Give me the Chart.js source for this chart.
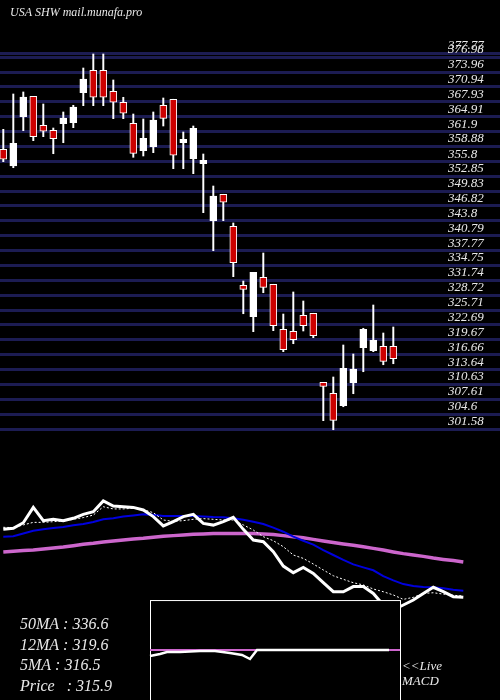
<!DOCTYPE html>
<html>
<head>
<meta charset="utf-8">
<script src="https://cdn.jsdelivr.net/npm/chart.js@4.4.1/dist/chart.umd.min.js"></script>
<style>
  html, body { margin: 0; padding: 0; background: #000; }
  #wrap { width: 500px; height: 700px; }
</style>
</head>
<body>
<div id="wrap"><canvas id="chart"></canvas></div>
<script>
// Candles
var opens  = [358.31,354.92,364.92,369.05,363.17,362.16,363.50,363.70,369.78,374.33,374.33,370.07,367.84,363.58,358.02,358.83,367.23,368.45,359.64,356.40,
              355.38,343.83,349.18,342.69,330.73,324.36,332.35,330.93,321.80,321.40,324.64,325.05,311.05,308.82,306.31,310.97,318.07,317.46,318.35,318.35];
var highs  = [362.36,369.52,369.93,369.05,367.49,362.62,365.87,367.23,374.79,377.63,377.63,372.36,368.85,365.46,364.45,365.87,368.71,368.45,361.81,363.03,
              357.35,350.86,349.18,343.36,331.59,333.36,337.27,330.93,324.90,329.37,327.54,325.05,311.05,312.13,318.62,316.79,322.01,326.73,321.05,322.27];
var lows   = [355.79,354.57,362.08,360.05,360.86,357.41,359.64,362.69,367.15,367.15,367.15,364.51,364.51,356.68,356.95,357.62,363.03,354.37,354.37,353.36,
              345.45,337.74,343.83,332.47,324.96,321.32,329.22,321.52,317.26,318.88,321.46,320.10,303.27,301.44,306.10,308.74,313.20,317.26,314.62,314.82];
var closes = [356.28,359.52,368.91,360.86,361.96,360.46,364.65,366.88,372.56,368.85,368.85,367.84,365.61,357.49,360.54,364.25,364.59,357.09,360.33,362.56,
              356.07,348.83,347.56,335.31,329.91,333.36,330.32,322.53,317.67,319.69,322.53,320.50,310.24,303.35,313.89,313.75,321.80,319.57,315.31,315.84];

// Price axis labels
var priceTicks = [377.77,376.98,373.96,370.94,367.93,364.91,361.9,358.88,355.8,352.85,349.83,346.82,343.8,340.79,337.77,334.75,
                  331.74,328.72,325.71,322.69,319.67,316.66,313.64,310.63,307.61,304.6,301.58];

// Lower panel lines (panel scale)
var priceLine = [355.7,356.3,359.6,368.6,360.8,361.6,360.8,362.2,364.5,366.1,372.4,369.4,369.0,368.6,367.1,363.2,357.7,360.2,363.2,364.5,
                 359.2,358.2,360.2,362.8,355.7,349.4,348.4,342.6,334.1,330.2,333.3,329.8,324.3,319.0,319.0,322.0,322.0,318.0,311.2,308.3,
                 311.2,314.1,318.0,321.6,319.0,316.1,315.7];
var ma5  = [356.9,356.7,358.3,359.8,359.8,360.2,360.6,361.6,362.6,364.1,369.0,367.7,367.7,368.1,367.3,365.5,361.2,360.4,360.8,361.6,
            362.0,361.6,361.2,361.2,358.3,355.3,351.4,349.0,345.5,340.6,338.6,335.3,331.8,328.4,326.3,324.3,323.0,320.6,319.0,317.1,
            314.5,315.7,318.0,318.4,317.6,316.9,316.5];
var ma12 = [351.4,351.6,353.3,354.9,355.7,356.5,357.1,358.1,358.8,360.0,361.6,362.2,363.2,363.9,364.5,364.3,363.5,363.5,363.5,363.5,
            363.3,362.9,362.8,362.2,361.4,360.2,358.8,356.7,354.3,351.4,349.0,346.7,343.5,340.6,337.7,335.1,333.3,331.6,328.2,325.7,
            323.5,322.4,321.8,321.6,321.0,320.2,319.6];
var ma50 = [342.4,342.8,343.3,343.5,344.1,344.7,345.3,346.1,346.9,347.5,348.3,348.8,349.4,350.0,350.4,351.0,351.6,352.0,352.4,352.8,
            353.0,353.2,353.3,353.3,353.3,353.2,353.0,352.6,352.0,351.4,350.8,349.8,348.8,347.9,347.1,346.3,345.5,344.5,343.5,342.4,
            341.4,340.6,339.8,338.8,338.0,337.3,336.5];

// MACD inset
var macdX      = [14.67,15.67,16.37,17.67,19.67,21.17,22.67,23.87,24.67,25.37,38.57];
var macdVals   = [281.2,282.4,283.5,283.5,284.1,284.1,282.9,281.8,279.4,284.7,284.7];
var signalX    = [14.67,39.67];
var signalVals = [284.7,284.7];

var legendLines = ['50MA : 336.6', '12MA : 319.6', '5MA : 316.5', 'Price   : 315.9'];

var RED = '#cc0000';
var SERIF = '"Liberation Serif", "DejaVu Serif", serif';
var idx = closes.map(function(c, i) { return i; });
function pts(xs, ys) { return xs.map(function(x, i) { return { x: x, y: ys[i] }; }); }
function seq(arr) { return arr.map(function(v, i) { return { x: i, y: v }; }); }

var decor = {
  id: 'decor',
  // black MACD box drawn just before the MACD lines, so it covers the MA lines
  beforeDatasetDraw: function(chart, args) {
    if (chart.data.datasets[args.index].label !== 'signal') return;
    var ctx = chart.ctx, x = chart.scales.x, y = chart.scales.ym;
    var l = x.getPixelForValue(signalX[0]), r = x.getPixelForValue(signalX[1]);
    var t = y.getPixelForValue(314.1);
    ctx.save();
    ctx.fillStyle = '#000';
    ctx.fillRect(l, t, r - l, 700 - t);
    ctx.strokeStyle = '#fff';
    ctx.lineWidth = 1;
    ctx.strokeRect(l + 0.5, t + 0.5, r - l, 710 - t);
    ctx.restore();
  },
  afterDraw: function(chart) {
    var ctx = chart.ctx, ys = chart.scales.y;
    ctx.save();
    ctx.fillStyle = '#e8e8e8';
    ctx.font = 'italic 13px ' + SERIF;
    priceTicks.forEach(function(v) { ctx.fillText(String(v), 448, ys.getPixelForValue(v) - 4); });
    ctx.font = 'italic 12px ' + SERIF;
    ctx.fillText('USA SHW mail.munafa.pro', 10, 16);
    ctx.font = 'italic 16px ' + SERIF;
    legendLines.forEach(function(t, i) { ctx.fillText(t, 20, 629 + i * 20.5); });
    ctx.font = 'italic 13px ' + SERIF;
    ctx.fillText('<<Live', 402, 670);
    ctx.fillText('MACD', 402, 685);
    ctx.restore();
  }
};

new Chart(document.getElementById('chart').getContext('2d'), {
  data: {
    datasets: [
      { type: 'line', label: 'ma50', data: seq(ma50), yAxisID: 'ym', borderColor: '#cc66cc', borderWidth: 3.5, pointRadius: 0, order: 20 },
      { type: 'line', label: 'ma12', data: seq(ma12), yAxisID: 'ym', borderColor: '#0000dd', borderWidth: 2, pointRadius: 0, order: 19 },
      { type: 'line', label: 'ma5', data: seq(ma5), yAxisID: 'ym', borderColor: '#fff', borderWidth: 1, borderDash: [2, 2], pointRadius: 0, order: 18 },
      { type: 'line', label: 'price', data: seq(priceLine), yAxisID: 'ym', borderColor: '#fff', borderWidth: 3, pointRadius: 0, order: 17 },
      { type: 'line', label: 'signal', data: pts(signalX, signalVals), yAxisID: 'ym', borderColor: '#cc66cc', borderWidth: 2, pointRadius: 0, order: 3 },
      { type: 'line', label: 'macd', data: pts(macdX, macdVals), yAxisID: 'ym', borderColor: '#fff', borderWidth: 2.5, pointRadius: 0, order: 2 },
      { type: 'bar', label: 'wick', data: idx.map(function(i) { return { x: i, y: [lows[i], highs[i]] }; }),
        yAxisID: 'y', backgroundColor: '#fff', barThickness: 1.3, grouped: false, order: 11 },
      { type: 'bar', label: 'body', data: idx.map(function(i) { return { x: i, y: [opens[i], closes[i]] }; }),
        yAxisID: 'y', grouped: false, barThickness: 7, minBarLength: 3, order: 10,
        backgroundColor: idx.map(function(i) { return closes[i] < opens[i] ? RED : '#fff'; }),
        borderColor: '#fff', borderWidth: 1, borderSkipped: false }
    ]
  },
  options: {
    responsive: true,
    maintainAspectRatio: false,
    animation: false,
    layout: { padding: 0 },
    plugins: { legend: { display: false }, tooltip: { enabled: false } },
    scales: {
      x: { type: 'linear', min: -0.33, max: 49.67, display: false, offset: false },
      y: {
        position: 'right', min: 246.63, max: 388.58,
        afterBuildTicks: function(axis) { axis.ticks = priceTicks.map(function(v) { return { value: v }; }); },
        afterFit: function(axis) { axis.width = 0; },
        grid: { color: '#1c1c52', lineWidth: 3, drawTicks: false },
        border: { display: false },
        ticks: { display: false }
      },
      ym: { display: false, min: 255.3, max: 667.1 }
    }
  },
  plugins: [decor]
});
</script>
</body>
</html>
